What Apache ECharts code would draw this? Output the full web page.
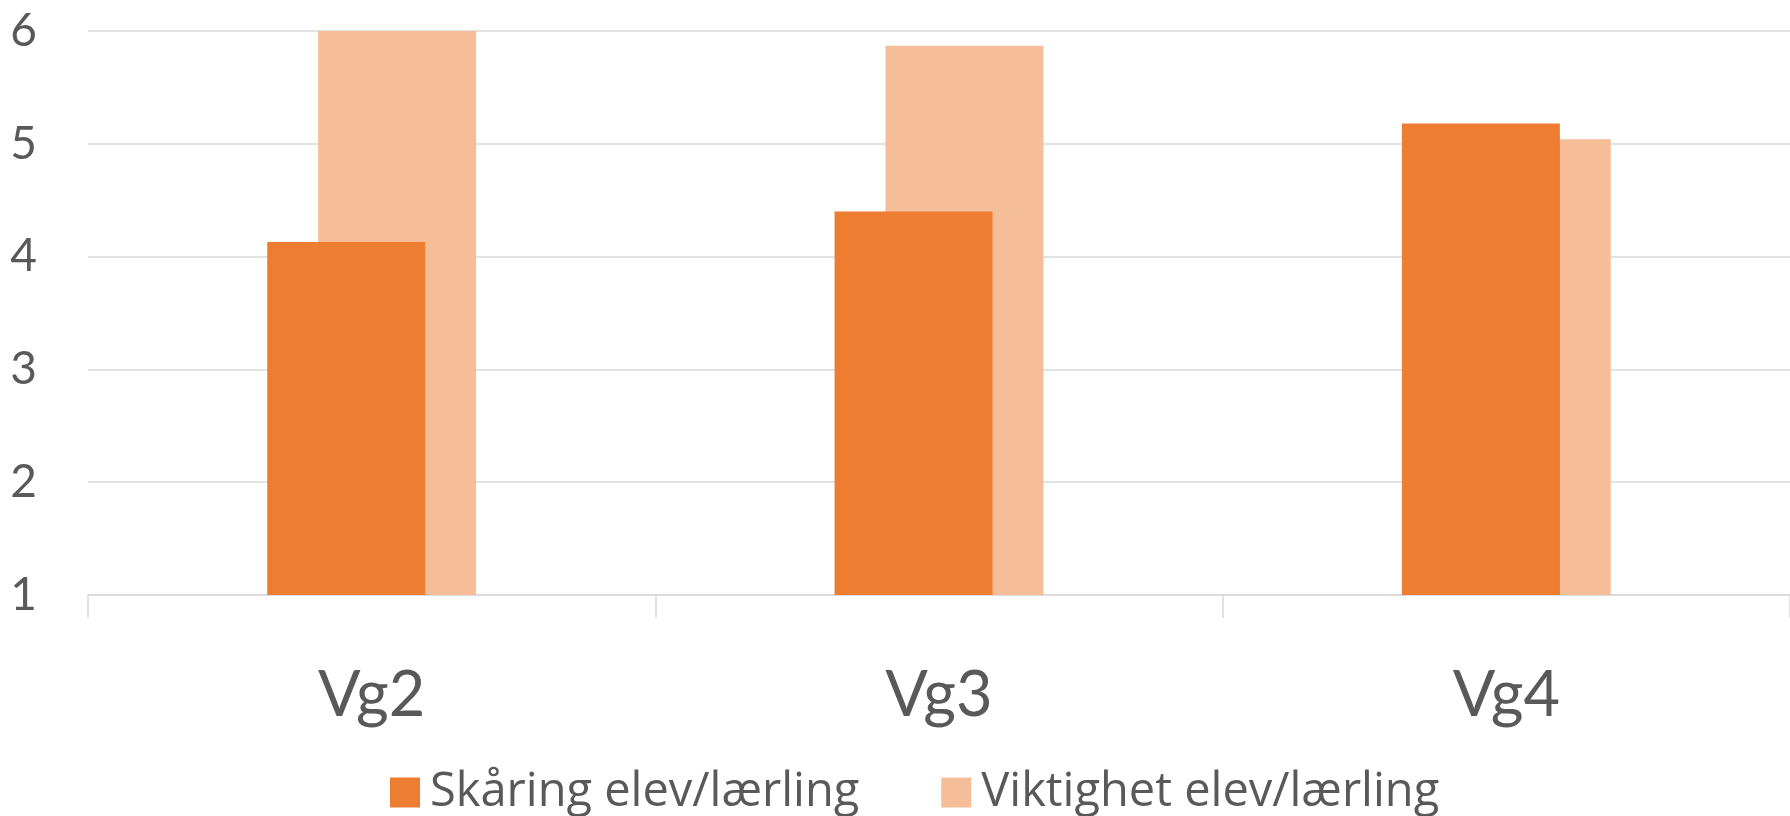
<!DOCTYPE html>
<html>
<head>
<meta charset="utf-8">
<title>Vg</title>
<script src="https://cdn.jsdelivr.net/npm/echarts@6/dist/echarts.min.js"></script>
<style>
  html, body { margin: 0; padding: 0; background: #fff; }
  #chart { width: 1790px; height: 816px; }
</style>
</head>
<body>
<div id="chart"></div>
<script>
// data
const categories = ['Vg2', 'Vg3', 'Vg4']
const skaring = [4.13, 4.40, 5.18]
const viktighet = [6.00, 5.87, 5.04]
const seriesNames = ['Skåring elev/lærling', 'Viktighet elev/lærling']

const textColor = '#595959'
const lineColor = '#d9d9d9'

const chart = echarts.init(document.getElementById('chart'))
chart.setOption({
  animation: false,
  textStyle: { fontFamily: 'Lato' },
  grid: {
    left: 88,
    right: -5,
    top: 31,
    bottom: 221
  },
  legend: {
    data: seriesNames,
    left: 385,
    top: 764,
    icon: 'rect',
    itemWidth: 30,
    itemHeight: 30,
    itemGap: 82,
    textStyle: {
      color: textColor,
      fontFamily: 'Open Sans',
      fontSize: 47,
      padding: [0, 0, 0, 5]
    }
  },
  xAxis: {
    type: 'category',
    data: categories,
    axisLine: { lineStyle: { color: lineColor, width: 1.5 } },
    axisTick: { show: true, length: 23, lineStyle: { color: lineColor, width: 1.5 } },
    axisLabel: {
      color: textColor,
      fontSize: 63,
      margin: 101,
      verticalAlign: 'middle'
    }
  },
  yAxis: {
    type: 'value',
    min: 1,
    max: 6,
    interval: 1,
    axisLine: { show: false },
    axisTick: { show: false },
    axisLabel: {
      color: textColor,
      fontSize: 46,
      margin: 51
    },
    splitLine: { lineStyle: { color: lineColor, width: 1.5 } }
  },
  series: [
    {
      name: seriesNames[0],
      type: 'bar',
      data: skaring,
      barWidth: 158,
      barGap: '-67.8%',
      z: 3,
      itemStyle: { color: '#ed7d31' }
    },
    {
      name: seriesNames[1],
      type: 'bar',
      data: viktighet,
      barWidth: 158,
      z: 2,
      itemStyle: { color: '#f6be98' }
    }
  ]
})
</script>
</body>
</html>
